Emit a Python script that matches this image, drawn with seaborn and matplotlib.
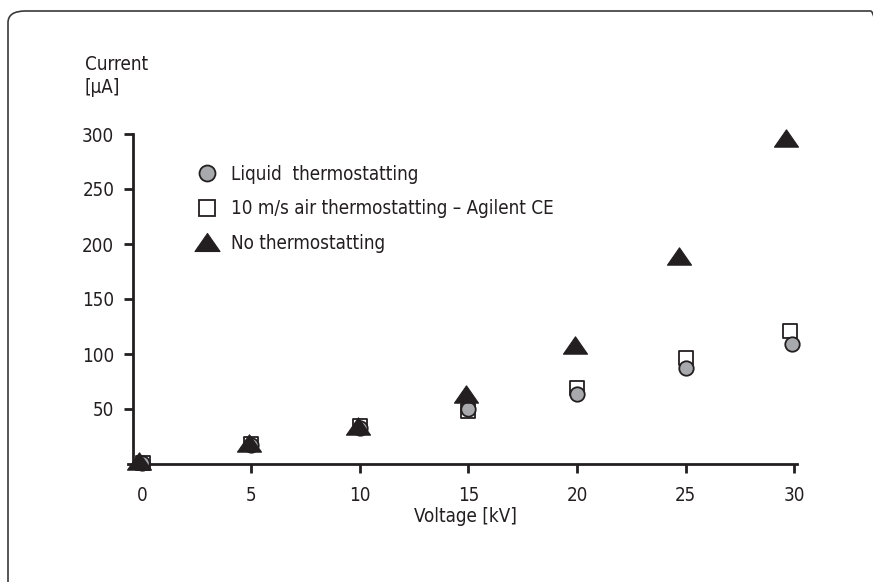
import matplotlib
matplotlib.use("Agg")
import matplotlib.pyplot as plt
from matplotlib.path import Path
from matplotlib.lines import Line2D
from matplotlib.patches import FancyBboxPatch
import seaborn as sns
import pandas as pd

# Current vs. voltage for three capillary cooling options
volt_liquid = [0, 5, 10, 15, 20, 25, 29.9]
cur_liquid = [1, 17, 33, 50, 64, 87, 109]

volt_air = [0.05, 5, 10, 15, 20, 25, 29.8]
cur_air = [1, 18, 35, 48, 69, 96, 121]

volt_none = [-0.15, 4.9, 9.9, 14.9, 19.9, 24.7, 29.6]
cur_none = [3, 19, 35, 64, 108, 189, 296]

series_labels = ["Liquid  thermostatting",
                 "10 m/s air thermostatting \u2013 Agilent CE",
                 "No thermostatting"]
x_ticks = [0, 5, 10, 15, 20, 25, 30]
y_ticks = [50, 100, 150, 200, 250, 300]

INK = "#231f20"
GREY = "#a7a9ac"

sns.set_theme(style="white")
plt.rcParams["font.family"] = ["Liberation Sans Narrow", "DejaVu Sans"]
plt.rcParams["font.stretch"] = "condensed"
FS = 13.5

fig = plt.figure(figsize=(8.73, 5.82), dpi=100)
fig.patch.set_facecolor("white")

# rounded frame around the panel
frame = FancyBboxPatch((8 / 873, 1 - 600 / 582), 880 / 873, 589 / 582,
                       boxstyle="round,pad=0,rounding_size=0.02",
                       transform=fig.transFigure, facecolor="none",
                       edgecolor="#3a3a3a", linewidth=1.2, zorder=0)
fig.patches.append(frame)

ax = fig.add_axes([133 / 873, 1 - 464 / 582, (797 - 133) / 873, (464 - 134) / 582])
ax.set_facecolor("none")

# flattened upward triangle
tri = Path([(-1, -0.72), (1, -0.72), (0, 0.72), (-1, -0.72)],
           [Path.MOVETO, Path.LINETO, Path.LINETO, Path.CLOSEPOLY])

df_air = pd.DataFrame({"Voltage": volt_air, "Current": cur_air})
df_liq = pd.DataFrame({"Voltage": volt_liquid, "Current": cur_liquid})
df_none = pd.DataFrame({"Voltage": volt_none, "Current": cur_none})

sns.scatterplot(data=df_air, x="Voltage", y="Current", marker="s", s=100,
                facecolor="white", edgecolor=INK, linewidth=1.3,
                ax=ax, clip_on=False, zorder=3)
sns.scatterplot(data=df_liq, x="Voltage", y="Current", marker="o", s=108,
                color=GREY, edgecolor=INK, linewidth=1.3,
                ax=ax, clip_on=False, zorder=4)
sns.scatterplot(data=df_none, x="Voltage", y="Current", marker=tri, s=300,
                color=INK, edgecolor=INK, linewidth=0.8,
                ax=ax, clip_on=False, zorder=5)

ax.set_xlim(-0.43, 30.12)
ax.set_ylim(0, 300)

# the origin is labelled without a tick mark
ax.set_xticks(x_ticks[1:])
ax.set_xticklabels([str(v) for v in x_ticks[1:]])
ax.set_xticks(x_ticks[:1], minor=True)
ax.set_xticklabels([str(v) for v in x_ticks[:1]], minor=True)
ax.set_yticks(y_ticks)
ax.set_yticklabels([str(v) for v in y_ticks])

for side in ("top", "right"):
    ax.spines[side].set_visible(False)
for side in ("left", "bottom"):
    ax.spines[side].set_color(INK)
    ax.spines[side].set_linewidth(2.0)
ax.spines["bottom"].set_bounds(-0.65, 30.12)

ax.tick_params(axis="both", which="major", direction="out", length=6.5,
               width=2.0, color=INK, labelcolor=INK, labelsize=FS,
               bottom=True, left=True)
ax.tick_params(axis="x", which="minor", length=0, labelcolor=INK,
               labelsize=FS, bottom=True, pad=15.5)
ax.tick_params(axis="x", which="major", pad=9)
ax.tick_params(axis="y", pad=7)

ax.set_xlabel("Voltage [kV]", fontsize=FS, color=INK, labelpad=2)
ax.set_ylabel("")
fig.text(85 / 873, 1 - 76 / 582, "Current\n[\u00b5A]", fontsize=FS, color=INK,
         ha="left", va="center", linespacing=1.25)

handles = [
    Line2D([], [], ls="", marker="o", markersize=11.5, markerfacecolor=GREY,
           markeredgecolor=INK, markeredgewidth=1.3),
    Line2D([], [], ls="", marker="s", markersize=11, markerfacecolor="white",
           markeredgecolor=INK, markeredgewidth=1.3),
    Line2D([], [], ls="", marker=tri, markersize=18, markerfacecolor=INK,
           markeredgecolor=INK, markeredgewidth=0.8),
]
ax.legend(handles, series_labels, loc="upper left",
          bbox_to_anchor=(196 / 873, 1 - 165 / 582), bbox_transform=fig.transFigure,
          frameon=False, fontsize=FS, labelcolor=INK, borderpad=0,
          borderaxespad=0, handlelength=1.2, handletextpad=0.67,
          labelspacing=0.82)

fig.savefig("out.png", dpi=100, facecolor="white")
